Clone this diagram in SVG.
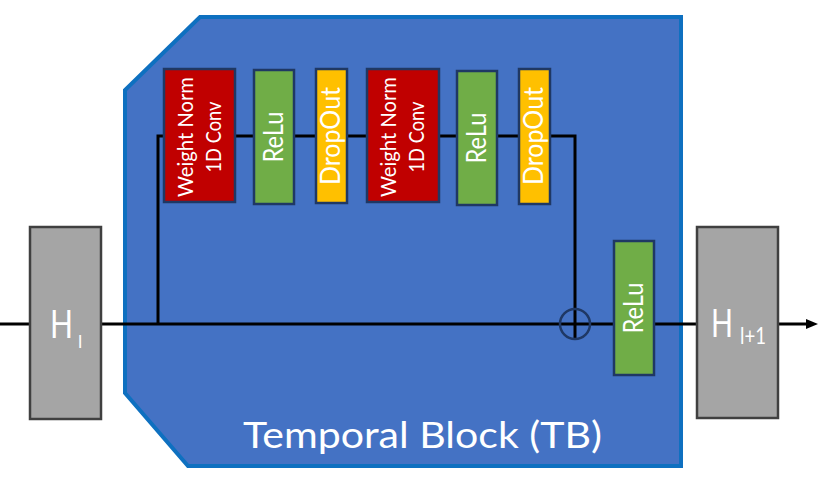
<svg xmlns="http://www.w3.org/2000/svg" width="828" height="504" viewBox="0 0 828 504">
<style>
.lbl{font-family:Lato,"Liberation Sans",sans-serif;fill:#ffffff}
.conn{stroke:#000;stroke-width:3;fill:none}
.red{fill:#C00000;stroke:#1F3864;stroke-width:2.5}
.green{fill:#70AD47;stroke:#1F3864;stroke-width:2.5}
.yellow{fill:#FFC000;stroke:#1F3864;stroke-width:2.5}
.gray{fill:#A5A5A5;stroke:#404040;stroke-width:2.5}
</style>
<rect width="828" height="504" fill="#ffffff"/>
<g id="temporal-block">
  <path d="M200,17 L681,17 L681,466 L188,466 L125,393 L125,90 Z" fill="#4472C4" stroke="#0E70C0" stroke-width="4"/>
  <text class="lbl" x="243" y="448" font-size="37" textLength="359" lengthAdjust="spacingAndGlyphs">Temporal Block (TB)</text>
</g>
<g id="connectors">
  <line class="conn" x1="0" y1="324" x2="808" y2="324"/>
  <polygon points="818,324 806,319 806,329" fill="#000"/>
  <polyline class="conn" points="158,324 158,136 575,136 575,339"/>
  <circle cx="575" cy="324" r="15" fill="none" stroke="#1F3864" stroke-width="2.5"/>
</g>
<g id="h-l">
  <rect class="gray" x="30" y="227" width="71" height="192"/>
  <text class="lbl" x="50" y="338" font-size="38"><tspan textLength="23" lengthAdjust="spacingAndGlyphs">H</tspan><tspan x="78" y="348" font-size="18">l</tspan></text>
</g>
<g id="h-l1">
  <rect class="gray" x="697" y="227" width="81" height="191"/>
  <text class="lbl" x="711" y="337" font-size="38"><tspan textLength="22" lengthAdjust="spacingAndGlyphs">H</tspan><tspan x="740" y="344" font-size="24" textLength="26" lengthAdjust="spacingAndGlyphs">l+1</tspan></text>
</g>
<g id="wn-conv-1">
  <rect class="red" x="164" y="69" width="71" height="133"/>
  <text class="lbl" transform="translate(193,137) rotate(-90)" text-anchor="middle" font-size="21" textLength="120" lengthAdjust="spacingAndGlyphs">Weight Norm</text>
  <text class="lbl" transform="translate(221,137) rotate(-90)" text-anchor="middle" font-size="21" textLength="71" lengthAdjust="spacingAndGlyphs">1D Conv</text>
</g>
<g id="relu-1">
  <rect class="green" x="254" y="70" width="40" height="134"/>
  <text class="lbl" transform="translate(283,137) rotate(-90)" text-anchor="middle" font-size="26" textLength="51" lengthAdjust="spacingAndGlyphs">ReLu</text>
</g>
<g id="dropout-1">
  <rect class="yellow" x="316" y="69" width="31" height="134"/>
  <text class="lbl" transform="translate(340,136) rotate(-90)" text-anchor="middle" font-size="26" textLength="98" lengthAdjust="spacingAndGlyphs">DropOut</text>
</g>
<g id="wn-conv-2">
  <rect class="red" x="367" y="69" width="72" height="133"/>
  <text class="lbl" transform="translate(396,137) rotate(-90)" text-anchor="middle" font-size="21" textLength="120" lengthAdjust="spacingAndGlyphs">Weight Norm</text>
  <text class="lbl" transform="translate(424,137) rotate(-90)" text-anchor="middle" font-size="21" textLength="71" lengthAdjust="spacingAndGlyphs">1D Conv</text>
</g>
<g id="relu-2">
  <rect class="green" x="457" y="71" width="40" height="134"/>
  <text class="lbl" transform="translate(486,138) rotate(-90)" text-anchor="middle" font-size="26" textLength="51" lengthAdjust="spacingAndGlyphs">ReLu</text>
</g>
<g id="dropout-2">
  <rect class="yellow" x="519" y="69" width="31" height="135"/>
  <text class="lbl" transform="translate(543,136) rotate(-90)" text-anchor="middle" font-size="26" textLength="98" lengthAdjust="spacingAndGlyphs">DropOut</text>
</g>
<g id="relu-3">
  <rect class="green" x="614" y="241" width="40" height="134"/>
  <text class="lbl" transform="translate(643,308) rotate(-90)" text-anchor="middle" font-size="26" textLength="51" lengthAdjust="spacingAndGlyphs">ReLu</text>
</g>
</svg>
